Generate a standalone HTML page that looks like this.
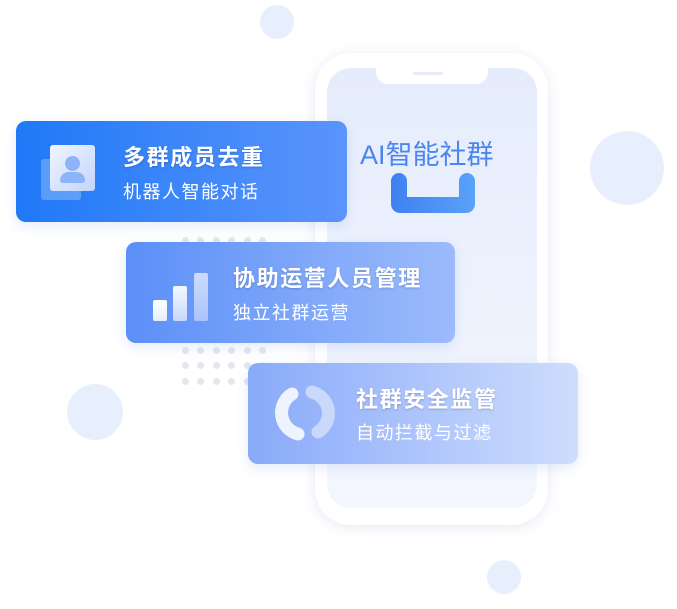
<!DOCTYPE html>
<html><head><meta charset="utf-8"><style>
html,body{margin:0;padding:0;background:#fff;}
body{width:677px;height:609px;position:relative;overflow:hidden;font-family:"Liberation Sans","Noto Sans CJK SC",sans-serif;}
.a{position:absolute;}
.circ{position:absolute;border-radius:50%;background:#e8effc;}
.card{position:absolute;border-radius:10px;box-shadow:0 4px 12px rgba(80,120,220,0.15);}
.t1{position:absolute;color:#fff;font-size:22px;font-weight:bold;letter-spacing:1.6px;white-space:nowrap;text-shadow:0 1px 2px rgba(0,0,40,0.2);}
.t2{position:absolute;color:#fff;font-size:18px;letter-spacing:1.5px;white-space:nowrap;}
.dot{position:absolute;width:7px;height:7px;border-radius:50%;background:#e3e7f0;}
</style></head><body>
<div class="circ" style="left:260px;top:5px;width:34px;height:34px;"></div>
<div class="circ" style="left:590px;top:131px;width:74px;height:74px;"></div>
<div class="circ" style="left:67px;top:384px;width:56px;height:56px;"></div>
<div class="circ" style="left:487px;top:560px;width:34px;height:34px;"></div>

<!-- phone -->
<div class="a" style="left:315px;top:53px;width:233px;height:472px;border-radius:36px;background:#fff;box-shadow:0 2px 14px rgba(150,170,210,0.25);"></div>
<div class="a" style="left:327px;top:68px;width:210px;height:440px;border-radius:24px;background:linear-gradient(180deg,#e5ecfc,#f4f7fe);"></div>
<div class="a" style="left:376px;top:66px;width:112px;height:18px;border-radius:0 0 12px 12px;background:#fff;"></div>
<div class="a" style="left:413px;top:72px;width:30px;height:3px;border-radius:2px;background:#e6ebf5;"></div>
<div class="a" style="left:360px;top:133px;color:#4a86f0;font-size:27px;white-space:nowrap;">AI智能社群</div>
<svg class="a" style="left:391px;top:173px;" width="84" height="41" viewBox="0 0 84 41">
<defs><linearGradient id="g" x1="0" x2="1"><stop offset="0" stop-color="#3f80f0"/><stop offset="1" stop-color="#5aa2fb"/></linearGradient></defs>
<path d="M0 8 A8 8 0 0 1 16 8 V24 H68 V8 A8 8 0 0 1 84 8 V31 A9 9 0 0 1 75 40 H9 A9 9 0 0 1 0 31 Z" fill="url(#g)"/>
</svg>

<div id="dots"></div>
<script>
var xs=[182,197,213,228,244,259],ys=[237,347,362,378],h='';
ys.forEach(function(y){xs.forEach(function(x){h+='<div class="dot" style="left:'+x+'px;top:'+y+'px"></div>';});});
document.getElementById('dots').innerHTML=h;
</script>

<!-- card 1 -->
<div class="card" style="left:16px;top:121px;width:331px;height:101px;background:linear-gradient(90deg,#1f79f7,#5b94fb);"></div>
<div class="a" style="left:41px;top:159px;width:40px;height:41px;border-radius:3px;background:rgba(255,255,255,0.25);"></div>
<div class="a" style="left:50px;top:145px;width:45px;height:46px;border-radius:3px;background:linear-gradient(135deg,#f0f5ff,#c3d5fb);"></div>
<div class="a" style="left:65px;top:156px;width:15px;height:15px;border-radius:50%;background:#8fb3f8;"></div>
<div class="a" style="left:60px;top:172px;width:25px;height:11px;border-radius:10px 10px 3px 3px;background:#8fb3f8;"></div>
<div class="t1" style="left:123px;top:140px;">多群成员去重</div>
<div class="t2" style="left:123px;top:178px;">机器人智能对话</div>

<!-- card 2 -->
<div class="card" style="left:126px;top:242px;width:329px;height:101px;background:linear-gradient(90deg,#5b8ff8,#9dbbfb);"></div>
<div class="a" style="left:153px;top:300px;width:14px;height:21px;border-radius:2px;background:linear-gradient(180deg,#fff,#e6ecfc);"></div>
<div class="a" style="left:173px;top:286px;width:14px;height:35px;border-radius:2px;background:linear-gradient(180deg,#f4f7ff,#c8d8fb);"></div>
<div class="a" style="left:194px;top:273px;width:14px;height:48px;border-radius:2px;background:linear-gradient(180deg,#cddcfc,#aac3f9);"></div>
<div class="t1" style="left:233px;top:261px;">协助运营人员管理</div>
<div class="t2" style="left:233px;top:299px;">独立社群运营</div>

<!-- card 3 -->
<div class="card" style="left:248px;top:363px;width:330px;height:101px;background:linear-gradient(90deg,#89aafa,#cfddfd);"></div>
<svg class="a" style="left:272px;top:380px;" width="66" height="66" viewBox="0 0 66 66">
<path d="M20 14 A22 22 0 0 0 26 54" stroke="#eef3fe" stroke-width="13" fill="none" stroke-linecap="round"/>
<path d="M46 52 A22 22 0 0 0 40 12" stroke="#c9d8fb" stroke-width="13" fill="none" stroke-linecap="round"/>
</svg>
<div class="t1" style="left:356px;top:382px;">社群安全监管</div>
<div class="t2" style="left:356px;top:419px;">自动拦截与过滤</div>
</body></html>
